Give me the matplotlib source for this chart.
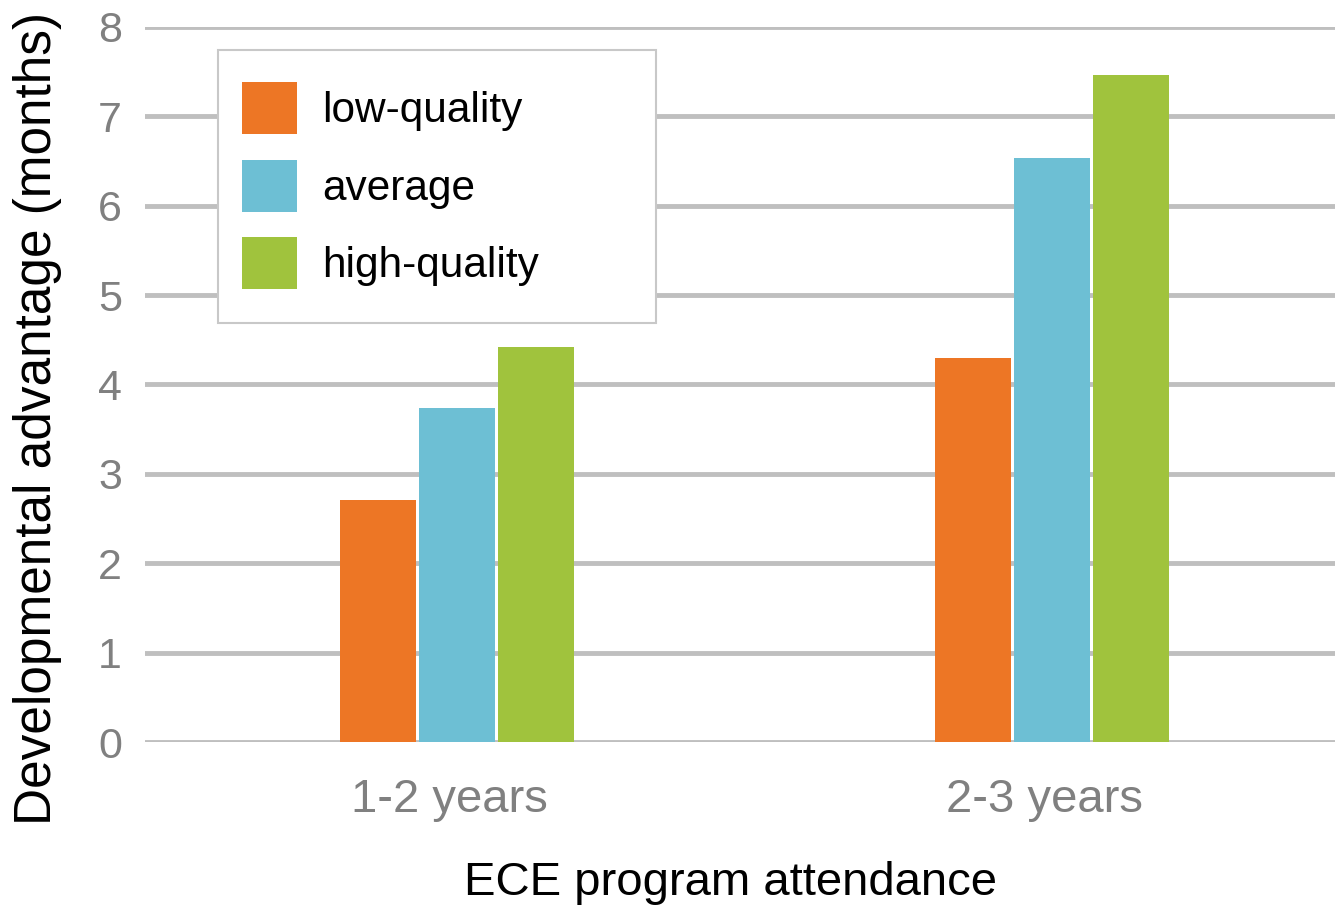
import matplotlib.pyplot as plt
import numpy as np
from matplotlib.patches import Rectangle

plt.rcParams['font.family'] = ['Liberation Sans', 'DejaVu Sans']

# Developmental advantage by attendance length and program quality
categories = ['1-2 years', '2-3 years']
series_names = ['low-quality', 'average', 'high-quality']
low_quality = [2.71, 4.30]
average = [3.74, 6.53]
high_quality = [4.42, 7.46]
colors = ['#ED7625', '#6DBFD4', '#A0C33D']

fig = plt.figure(figsize=(13.35, 9.06), dpi=100)
ax = fig.add_axes([145 / 1335, (906 - 742) / 906, 1 - 145 / 1335, (742 - 27) / 906])

x = np.arange(len(categories))
width = 0.128
step = 0.1328
handles = []
for i, (vals, col) in enumerate(zip([low_quality, average, high_quality], colors)):
    h = ax.bar(x + (i - 1) * step, vals, width, color=col, zorder=3, label=series_names[i])
    handles.append(h)

ax.set_xlim(-0.524, 1.476)
ax.set_ylim(0, 8)
ax.set_yticks(range(0, 9))
ax.set_xticks(x - 0.012)
ax.set_xticklabels(categories)
ax.yaxis.grid(True, color='#BFBFBF', linewidth=3.5, zorder=0)
ax.set_axisbelow(True)
for s in ax.spines.values():
    s.set_visible(False)
ax.tick_params(axis='both', length=0, labelcolor='#808080')
ax.tick_params(axis='y', pad=16.5, labelsize=31)
ax.tick_params(axis='x', pad=26, labelsize=34)
ax.set_xlabel('ECE program attendance', fontsize=34)
ax.xaxis.set_label_coords(0.4924, -0.166)
ax.set_ylabel('Developmental advantage (months)', fontsize=37)
ax.yaxis.set_label_coords(-0.0695, 0.453)

# legend frame is drawn separately so it can be wider than its contents
frame = Rectangle((218 / 1335, (906 - 323) / 906), 438 / 1335, 273 / 906,
                  transform=fig.transFigure, facecolor='white', edgecolor='#C8C8C8',
                  linewidth=1.5, zorder=4)
ax.add_patch(frame)
leg = ax.legend(handles=handles, loc='upper left', bbox_to_anchor=(208 / 1335, 1 - 48 / 906),
                bbox_transform=fig.transFigure, frameon=False, fontsize=30.5,
                handlelength=1.3, handleheight=1.51, handletextpad=0.6,
                labelspacing=0.61, borderpad=0.3)
leg.set_zorder(5)

fig.savefig('out.png', dpi=100)
